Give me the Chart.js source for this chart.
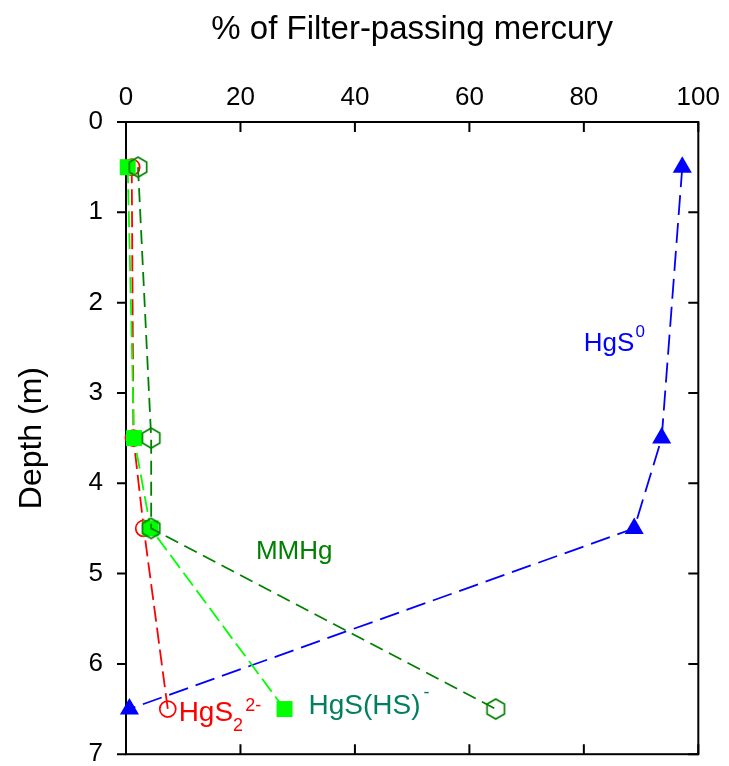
<!DOCTYPE html>
<html>
<head>
<meta charset="utf-8">
<script src="https://cdn.jsdelivr.net/npm/chart.js@4.4.1/dist/chart.umd.min.js"></script>
<style>
  html, body { margin: 0; padding: 0; background: #fff; }
  canvas { display: block; }
</style>
</head>
<body>
<canvas id="mercuryChart" width="729" height="766"></canvas>
<script>
// Data
const depths = [0.5, 3.5, 4.5, 6.5];
const hgs0 = [97.2, 93.6, 88.8, 0.6];
const hgs2 = [1.0, 1.3, 3.1, 7.3];
const hgsHs = [0.3, 1.4, 4.3, 27.7];
const mmhg = [2.1, 4.4, 4.4, 64.6];
const xTicks = [0, 20, 40, 60, 80, 100];
const yTicks = [0, 1, 2, 3, 4, 5, 6, 7];

const FONT = "'Liberation Sans', Arial, sans-serif";

const toPoints = vals => vals.map((v, i) => ({ x: v, y: depths[i] }));

// Open hexagon marker for MMHg
function makeHexagon(color, r) {
  const c = document.createElement("canvas");
  const size = Math.ceil(r * 2 + 4);
  c.width = size;
  c.height = size;
  const g = c.getContext("2d");
  g.strokeStyle = color;
  g.lineWidth = 1.7;
  g.beginPath();
  for (let i = 0; i < 6; i++) {
    const a = Math.PI / 3 * i - Math.PI / 2;
    const px = size / 2 + r * Math.cos(a);
    const py = size / 2 + r * Math.sin(a);
    if (i === 0) g.moveTo(px, py); else g.lineTo(px, py);
  }
  g.closePath();
  g.stroke();
  return c;
}

// Box frame with tick marks (left ticks point out, the rest point in)
const framePlugin = {
  id: "frame",
  beforeDatasetsDraw(chart) {
    const { ctx, chartArea: a, scales: { x, y } } = chart;
    ctx.save();
    ctx.strokeStyle = "#000";
    ctx.lineWidth = 2;
    ctx.strokeRect(a.left, a.top, a.right - a.left, a.bottom - a.top);
    ctx.beginPath();
    xTicks.forEach(v => {
      const px = x.getPixelForValue(v);
      ctx.moveTo(px, a.top);
      ctx.lineTo(px, a.top + 10);
      ctx.moveTo(px, a.bottom);
      ctx.lineTo(px, a.bottom - 10);
    });
    yTicks.forEach(v => {
      const py = y.getPixelForValue(v);
      ctx.moveTo(a.left - 9, py);
      ctx.lineTo(a.left, py);
      ctx.moveTo(a.right, py);
      ctx.lineTo(a.right - 10, py);
    });
    ctx.stroke();
    ctx.restore();
  }
};

// Text with sub/superscripts
function drawRich(ctx, x, y, parts, color) {
  ctx.fillStyle = color;
  ctx.textAlign = "left";
  ctx.textBaseline = "alphabetic";
  let cx = x;
  parts.forEach(p => {
    ctx.font = p.size + "px " + FONT;
    cx += p.dx || 0;
    ctx.fillText(p.text, cx, y + (p.dy || 0));
    cx += ctx.measureText(p.text).width;
  });
}

const labelPlugin = {
  id: "seriesLabels",
  afterDraw(chart) {
    const { ctx, scales: { x, y } } = chart;
    const at = (vx, vy) => [x.getPixelForValue(vx), y.getPixelForValue(vy)];
    ctx.save();
    let p = at(80.0, 2.54);
    drawRich(ctx, p[0], p[1], [
      { text: "HgS", size: 26 },
      { text: "0", size: 17, dy: -14, dx: 1 }
    ], "#0000ff");
    p = at(22.7, 4.84);
    drawRich(ctx, p[0], p[1], [{ text: "MMHg", size: 26 }], "#008000");
    p = at(9.2, 6.63);
    drawRich(ctx, p[0], p[1], [
      { text: "HgS", size: 28 },
      { text: "2", size: 18, dy: 10 },
      { text: "2-", size: 18, dy: -10, dx: 2 }
    ], "#ff0000");
    p = at(31.9, 6.56);
    drawRich(ctx, p[0], p[1], [
      { text: "HgS(HS)", size: 28 },
      { text: "-", size: 18, dy: -16, dx: 3 }
    ], "#008060");
    ctx.restore();
  }
};

const hexagon = makeHexagon("#008000", 10);

const chart = new Chart(document.getElementById("mercuryChart"), {
  type: "scatter",
  data: {
    datasets: [
      {
        label: "MMHg",
        data: toPoints(mmhg),
        showLine: true,
        borderColor: "#008000",
        borderWidth: 1.8,
        borderDash: [14, 7],
        pointStyle: hexagon,
        pointRadius: 10,
        order: 1
      },
      {
        label: "HgS(HS)-",
        data: toPoints(hgsHs),
        showLine: true,
        borderColor: "#00ff00",
        backgroundColor: "#00ff00",
        borderWidth: 1.8,
        borderDash: [16, 6],
        pointStyle: "rect",
        pointRadius: 11.3,
        pointBorderWidth: 0,
        order: 2
      },
      {
        label: "HgS2 2-",
        data: toPoints(hgs2),
        showLine: true,
        borderColor: "#ff0000",
        borderWidth: 1.8,
        borderDash: [16, 6],
        pointStyle: "circle",
        pointRadius: 8,
        pointBackgroundColor: "rgba(0,0,0,0)",
        pointBorderColor: "#ff0000",
        pointBorderWidth: 1.7,
        order: 3
      },
      {
        label: "HgS0",
        data: toPoints(hgs0),
        showLine: true,
        borderColor: "#0000ff",
        backgroundColor: "#0000ff",
        borderWidth: 1.8,
        borderDash: [20, 8],
        pointStyle: "triangle",
        pointRadius: 11,
        pointBorderWidth: 0,
        order: 4
      }
    ]
  },
  options: {
    responsive: false,
    animation: false,
    clip: false,
    layout: { padding: { left: 0, top: 0, right: 27, bottom: 9 } },
    elements: { line: { tension: 0 } },
    plugins: {
      legend: { display: false },
      tooltip: { enabled: false }
    },
    scales: {
      x: {
        type: "linear",
        position: "top",
        min: 0,
        max: 100,
        afterBuildTicks: s => { s.ticks = xTicks.map(v => ({ value: v })); },
        afterFit: s => { s.height = 122; },
        ticks: { color: "#000", padding: 9, font: { family: FONT, size: 26 } },
        grid: { display: false, drawTicks: false, tickLength: 0 },
        border: { display: false },
        title: {
          display: true,
          text: "% of Filter-passing mercury",
          color: "#000",
          font: { family: FONT, size: 33 },
          padding: { top: 10, bottom: 0 }
        }
      },
      y: {
        type: "linear",
        reverse: true,
        min: 0,
        max: 7,
        afterBuildTicks: s => { s.ticks = yTicks.map(v => ({ value: v })); },
        afterFit: s => { s.width = 126; s.paddingTop = 0; s.paddingBottom = 0; },
        ticks: { color: "#000", padding: 23, font: { family: FONT, size: 26 } },
        grid: { display: false, drawTicks: false, tickLength: 0 },
        border: { display: false },
        title: {
          display: true,
          text: "Depth (m)",
          color: "#000",
          font: { family: FONT, size: 32 },
          padding: { top: 13, bottom: 0 }
        }
      }
    }
  },
  plugins: [framePlugin, labelPlugin]
});
</script>
</body>
</html>
